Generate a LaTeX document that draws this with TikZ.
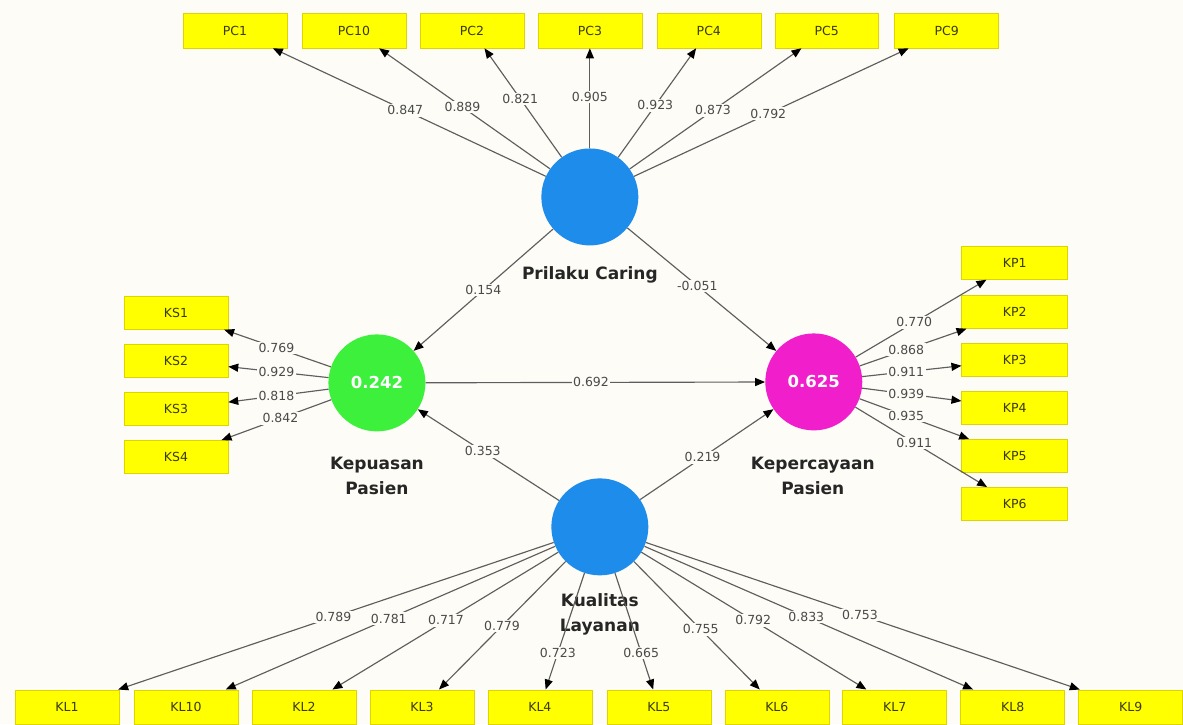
\documentclass[tikz,border=0pt]{standalone}
\usepackage{fontspec}
\setmainfont{DejaVu Sans}
\usetikzlibrary{arrows.meta,calc}
\definecolor{bg}{HTML}{FDFCF6}
\definecolor{ybox}{HTML}{FFFF00}
\definecolor{yedge}{HTML}{E0D400}
\definecolor{cblue}{HTML}{1E8CEB}
\definecolor{cgreen}{HTML}{3CF03C}
\definecolor{cmag}{HTML}{F01ECB}
\definecolor{lncol}{HTML}{5E5E5E}
\definecolor{txt}{HTML}{4A4A4A}
\definecolor{boxtxt}{HTML}{3A3A10}
\begin{document}
\begin{tikzpicture}[x=1pt,y=-1pt,
 ind/.style={draw=yedge, fill=ybox, line width=0.6pt, minimum width=104pt, minimum height=34pt, inner sep=0pt, font=\fontsize{12.5}{14}\selectfont, text=boxtxt},
 lv/.style={circle, minimum size=97pt, inner sep=0pt, font=\bfseries\fontsize{16.5}{18}\selectfont, text=white},
 lvname/.style={font=\bfseries\fontsize{17}{25}\selectfont, text=black!85, align=center},
 conn/.style={draw=lncol, line width=1.15pt, -{Triangle[length=10pt,width=8pt,color=black]}},
 wt/.style={fill=bg, inner sep=1.5pt, font=\fontsize{12.5}{14}\selectfont, text=txt}
]
\fill[bg] (0,0) rectangle (1183,724);

% latent variables
\node[lv, fill=cblue] (PCc) at (590,197) {};
\node[lv, fill=cgreen] (KSc) at (377,383) {0.242};
\node[lv, fill=cmag] (KPc) at (814,382) {0.625};
\node[lv, fill=cblue] (KLc) at (600,527) {};

% indicators
\foreach \n/\x in {PC1/235, PC10/354, PC2/472, PC3/590, PC4/709, PC5/827, PC9/947}
  \node[ind, minimum height=35pt] (\n) at (\x,30.5) {\n};
\foreach \n/\y in {KS1/313, KS2/361, KS3/409, KS4/457}
  \node[ind, minimum height=33pt] (\n) at (176,\y) {\n};
\foreach \n/\y in {KP1/263, KP2/312, KP3/360, KP4/408, KP5/456, KP6/504}
  \node[ind, minimum height=33pt, minimum width=106pt] (\n) at (1015,\y) {\n};
\foreach \n/\x in {KL1/67, KL10/186, KL2/304, KL3/422, KL4/540, KL5/659, KL6/777, KL7/895, KL8/1013, KL9/1131}
  \node[ind] (\n) at (\x,707) {\n};

% names of latent variables
\node[lvname] (PCn) at (590,275) {Prilaku Caring};
\node[lvname] (KSn) at (377,476) {Kepuasan\\Pasien};
\node[lvname] (KPn) at (813,476) {Kepercayaan\\Pasien};
\node[lvname] (KLn) at (600,615) {Kualitas\\Layanan};

% outer loadings
\foreach \n/\t/\v in {PC1/0.52/0.847, PC10/0.54/0.889, PC2/0.59/0.821, PC3/0.6/0.905, PC4/0.55/0.923, PC5/0.52/0.873, PC9/0.5/0.792}{
  \draw[conn] (PCc) -- (\n);
  \node[wt] at ($(PCc)!\t!(\n)$) {\v};
}
\foreach \n/\t/\v in {KS1/0.5/0.769, KS2/0.5/0.929, KS3/0.5/0.818, KS4/0.48/0.842}{
  \draw[conn] (KSc) -- (\n);
  \node[wt] at ($(KSc)!\t!(\n)$) {\v};
}
\foreach \n/\t/\v in {KP1/0.5/0.770, KP2/0.46/0.868, KP3/0.46/0.911, KP4/0.46/0.939, KP5/0.46/0.935, KP6/0.5/0.911}{
  \draw[conn] (KPc) -- (\n);
  \node[wt] at ($(KPc)!\t!(\n)$) {\v};
}
\foreach \n/\t/\v in {KL1/0.5/0.789, KL10/0.51/0.781, KL2/0.52/0.717, KL3/0.55/0.779, KL4/0.7/0.723, KL5/0.7/0.665, KL6/0.57/0.755, KL7/0.52/0.792, KL8/0.5/0.833, KL9/0.49/0.753}{
  \draw[conn] (KLc) -- (\n);
  \node[wt] at ($(KLc)!\t!(\n)$) {\v};
}

% structural paths
\draw[conn] (PCc) -- (KSc);
\node[wt] at ($(PCc)!0.5!(KSc)$) {0.154};
\draw[conn] (PCc) -- (KPc);
\node[wt] at ($(PCc)!0.48!(KPc)$) {-0.051};
\draw[conn] (KSc) -- (KPc);
\node[wt] at ($(KSc)!0.49!(KPc)$) {0.692};
\draw[conn] (KLc) -- (KSc);
\node[wt] at ($(KLc)!0.525!(KSc)$) {0.353};
\draw[conn] (KLc) -- (KPc);
\node[wt] at ($(KLc)!0.48!(KPc)$) {0.219};
\end{tikzpicture}
\end{document}
